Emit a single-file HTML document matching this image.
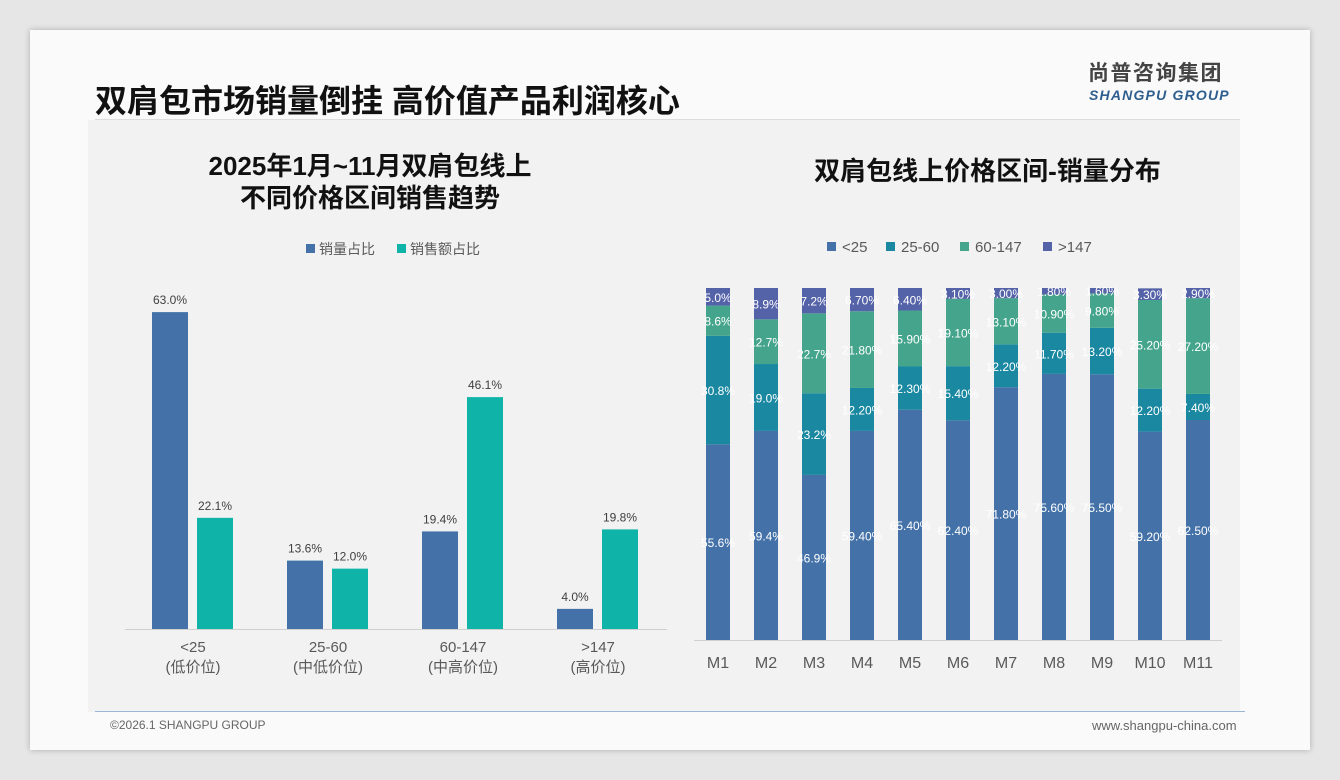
<!DOCTYPE html>
<html><head><meta charset="utf-8">
<style>
body{margin:0;width:1340px;height:780px;background:#e6e6e6;font-family:"Liberation Sans","Noto Sans CJK SC",sans-serif;position:relative;overflow:hidden}
#card{position:absolute;left:30px;top:30px;width:1280px;height:720px;background:#fafafa;box-shadow:0 0 6px rgba(0,0,0,.25)}
#panel{position:absolute;left:88px;top:120px;width:1152px;height:592px;background:#f2f2f2}
.abs{position:absolute}
</style></head><body>
<div id="card"></div>
<div id="panel"></div>
<div class="abs" style="left:95px;top:76px;font-size:32px;font-weight:bold;color:#111">双肩包市场销量倒挂 高价值产品利润核心</div>
<div class="abs" style="left:1088px;top:61px;font-size:21px;line-height:26px;font-weight:bold;color:#444;letter-spacing:1.5px">尚普咨询集团</div>
<div class="abs" style="left:1089px;top:87px;font-size:14px;line-height:17px;font-weight:bold;font-style:italic;color:#2e5e8e;letter-spacing:1.2px">SHANGPU GROUP</div>
<div class="abs" style="left:95px;top:119px;width:1145px;height:1px;background:#ddd"></div>
<div class="abs" style="left:120px;top:150px;width:500px;text-align:center;font-size:26px;font-weight:bold;color:#111;line-height:32px">2025年1月~11月双肩包线上<br>不同价格区间销售趋势</div>
<div class="abs" style="left:700px;top:151px;width:575px;text-align:center;font-size:26px;font-weight:bold;color:#111">双肩包线上价格区间-销量分布</div>
<div class="abs" style="left:95px;top:711px;width:1150px;height:1px;background:#9ab7d6"></div>
<div class="abs" style="left:110px;top:718px;font-size:12px;color:#666">©2026.1 SHANGPU GROUP</div>
<div class="abs" style="left:1092px;top:718px;font-size:13px;color:#666">www.shangpu-china.com</div>
<svg id="svg" class="abs" style="left:0;top:0" width="1340" height="780"></svg>
<script>
const groups=["<25","25-60","60-147",">147"];
const groupSubs=["(低价位)","(中低价位)","(中高价位)","(高价位)"];
const volShare=[63.0,13.6,19.4,4.0];
const amtShare=[22.1,12.0,46.1,19.8];
const months=["M1","M2","M3","M4","M5","M6","M7","M8","M9","M10","M11"];
const s1=[55.6,59.4,46.9,59.4,65.4,62.4,71.8,75.6,75.5,59.2,62.5];
const s2=[30.8,19.0,23.2,12.2,12.3,15.4,12.2,11.7,13.2,12.2,7.4];
const s3=[8.6,12.7,22.7,21.8,15.9,19.1,13.1,10.9,9.8,25.2,27.2];
const s4=[5.0,8.9,7.2,6.7,6.4,3.1,3.0,1.8,1.6,3.3,2.9];
const lab1=["55.6%","59.4%","46.9%","59.40%","65.40%","62.40%","71.80%","75.60%","75.50%","59.20%","62.50%"];
const lab2=["30.8%","19.0%","23.2%","12.20%","12.30%","15.40%","12.20%","11.70%","13.20%","12.20%","7.40%"];
const lab3=["8.6%","12.7%","22.7%","21.80%","15.90%","19.10%","13.10%","10.90%","9.80%","25.20%","27.20%"];
const lab4=["5.0%","8.9%","7.2%","6.70%","6.40%","3.10%","3.00%","1.80%","1.60%","3.30%","2.90%"];
const svg=document.getElementById('svg');const NS='http://www.w3.org/2000/svg';
function mk(t,a,txt){const e=document.createElementNS(NS,t);for(const k in a)e.setAttribute(k,a[k]);if(txt!=null)e.textContent=txt;svg.appendChild(e);return e;}
// left chart
const baseL=629,pxPer=5.03;const yL=v=>baseL-v*pxPer;const gx=i=>193+i*135;
let e=mk('line',{x1:125,x2:667,y1:baseL+0.5,y2:baseL+0.5,stroke:'#d0d0d0'});

groups.forEach((g,i)=>{
 const cx=gx(i);
 e=mk('rect',{x:cx-41,y:yL(volShare[i]),width:36,height:baseL-yL(volShare[i]),fill:'#4472a8'});
 
 e=mk('rect',{x:cx+4,y:yL(amtShare[i]),width:36,height:baseL-yL(amtShare[i]),fill:'#0fb3a8'});
 
 e=mk('text',{x:cx-23,y:yL(volShare[i])-8,'text-anchor':'middle','font-size':12,fill:'#404040'},volShare[i].toFixed(1)+'%');
 
 e=mk('text',{x:cx+22,y:yL(amtShare[i])-8,'text-anchor':'middle','font-size':12,fill:'#404040'},amtShare[i].toFixed(1)+'%');
 
 e=mk('text',{x:cx,y:652,'text-anchor':'middle','font-size':15,fill:'#595959'},g);
 
 e=mk('text',{x:cx,y:672,'text-anchor':'middle','font-size':15,fill:'#595959'},groupSubs[i]);
 
});
e=mk('rect',{x:306,y:244,width:9,height:9,fill:'#4472a8'});
e=mk('text',{x:319,y:254,'font-size':14,fill:'#595959'},'销量占比');
e=mk('rect',{x:397,y:244,width:9,height:9,fill:'#0fb3a8'});
e=mk('text',{x:410,y:254,'font-size':14,fill:'#595959'},'销售额占比');
// right chart
const topR=288,botR=640;const yR=v=>botR-v*(botR-topR)/100;const mx=i=>718+i*48;
e=mk('line',{x1:694,x2:1222,y1:botR+0.5,y2:botR+0.5,stroke:'#d0d0d0'});

const series=[s1,s2,s3,s4],labs=[lab1,lab2,lab3,lab4],cols=['#4472a8','#1a88a0','#45a58c','#5462a8'],names=['seg-under25','seg-25-60','seg-60-147','seg-over147'];
months.forEach((m,i)=>{
 let cum=0;
 series.forEach((s,k)=>{
  const y0=yR(cum),y1=yR(Math.min(100,cum+s[i]));
  e=mk('rect',{x:mx(i)-12,y:y1,width:24,height:y0-y1,fill:cols[k]});
  
  cum+=s[i];
 });
 cum=0;
 series.forEach((s,k)=>{
  const y0=yR(cum),y1=yR(Math.min(100,cum+s[i]));
  e=mk('text',{x:mx(i),y:(y0+y1)/2+5,'text-anchor':'middle','font-size':12,fill:'#fff'},labs[k][i]);
  
  cum+=s[i];
 });
 e=mk('text',{x:mx(i),y:668,'text-anchor':'middle','font-size':16,fill:'#595959'},m);
 
});
const lg=[['<25',827],['25-60',886],['60-147',960],['>147',1043]];
lg.forEach((l,k)=>{
 e=mk('rect',{x:l[1],y:242,width:9,height:9,fill:cols[k]});
 e=mk('text',{x:l[1]+15,y:252,'font-size':15,fill:'#595959'},l[0]);
});
</script>
</body></html>
